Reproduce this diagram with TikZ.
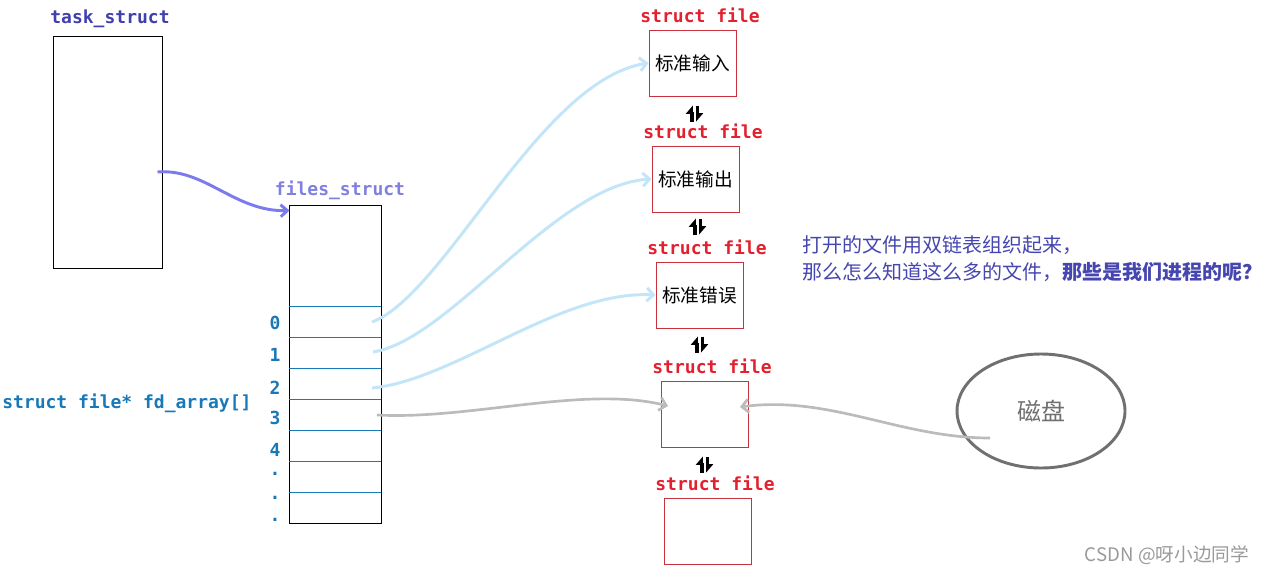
\documentclass[tikz,border=0pt]{standalone}
\usepackage{fontspec}
\setmonofont{DejaVu Sans Mono}
\newfontfamily\cjk{Noto Sans CJK SC}
\usetikzlibrary{arrows.meta,shapes.geometric,fit,calc}
\definecolor{taskc}{HTML}{3F3FAF}
\definecolor{filesc}{HTML}{8080E0}
\definecolor{idxc}{HTML}{1878B8}
\definecolor{redc}{HTML}{E3202E}
\definecolor{boxred}{HTML}{C8323C}
\definecolor{lblue}{HTML}{C2E5F8}
\definecolor{arrgray}{HTML}{BBBBBB}
\definecolor{diskc}{HTML}{707070}
\definecolor{notec}{HTML}{4646B0}
\definecolor{purp}{HTML}{7B7BEE}
\definecolor{wmark}{HTML}{9A9A9A}
\tikzset{
  codelbl/.style={font=\ttfamily\bfseries\fontsize{13.5}{15}\selectfont, inner sep=0pt},
  blackbox/.style={draw=black, line width=0.75pt, inner sep=0pt},
  filebox/.style={draw=boxred, line width=0.75pt, inner sep=0pt},
  boxtext/.style={font=\cjk\fontsize{14}{16}\selectfont, inner sep=0pt},
  cellline/.style={draw=idxc, line width=0.75pt},
  bluearr/.style={draw=lblue, line width=2.2pt, -{Straight Barb[length=5pt,width=10pt]}},
  grayarr/.style={draw=arrgray, line width=2pt, -{Straight Barb[length=5pt,width=10pt]}},
  purparr/.style={draw=purp, line width=2.2pt, -{Straight Barb[length=5pt,width=9pt]}},
  harp/.style={draw=black, line width=2.4pt, -{Triangle[left,length=5.5pt,width=9pt]}},
}
\newcommand{\dblarrow}[3]{%
  \draw[harp] ($(#1.south)+(#2-2.6,#3+16)$) -- ($(#1.south)+(#2-2.6,#3)$);
  \draw[harp] ($(#1.south)+(#2+2.6,#3)$) -- ($(#1.south)+(#2+2.6,#3+16)$);
}
\begin{document}
\begin{tikzpicture}[x=0.75pt,y=-0.75pt]
\useasboundingbox[fill=white] (0,0) rectangle (1266,575);

% task_struct
\node[codelbl, text=taskc] (tasklbl) at (110,19) {task\_struct};
\node[blackbox, fit={(53,36) (162,268)}] (task) {};

% files_struct
\node[codelbl, text=filesc] (fileslbl) at (340,190) {files\_struct};
\node[blackbox, fit={(289,205) (381,523)}] (files) {};
\foreach \yy in {306,337,368,399,430,461,492}
  \draw[cellline] (289.4,\yy) -- (380.6,\yy);

% indices
\node[codelbl, text=idxc] (i0) at (275,323) {0};
\node[codelbl, text=idxc] (i1) at (275,355) {1};
\node[codelbl, text=idxc] (i2) at (275,388) {2};
\node[codelbl, text=idxc] (i3) at (275,418) {3};
\node[codelbl, text=idxc] (i4) at (275,450) {4};
\node[codelbl, text=idxc] (d1) at (275,474) {.};
\node[codelbl, text=idxc] (d2) at (275,498) {.};
\node[codelbl, text=idxc] (d3) at (275,520) {.};
\node[codelbl, text=idxc, anchor=west] (fdarr) at (2,403) {struct file* fd\_array[]};

% struct file nodes
\node[codelbl, text=redc] (l1) at (700,15) {struct file};
\node[filebox, fit={(649,30) (736,96)}] (f1) {};
\node[boxtext] (t1) at (f1.center) {标准输入};
\node[codelbl, text=redc] (l2) at (703,131) {struct file};
\node[filebox, fit={(652,146) (739,212)}] (f2) {};
\node[boxtext] (t2) at (f2.center) {标准输出};
\node[codelbl, text=redc] (l3) at (707,247) {struct file};
\node[filebox, fit={(656,262) (743,328)}] (f3) {};
\node[boxtext] (t3) at (f3.center) {标准错误};
\node[codelbl, text=redc] (l4) at (712,366) {struct file};
\node[filebox, fit={(661,381) (748,447)}] (f4) {};
\node[codelbl, text=redc] (l5) at (715,483) {struct file};
\node[filebox, fit={(664,498) (751,564)}] (f5) {};

% double arrows between file nodes
\dblarrow{f1}{2}{9}
\dblarrow{f2}{2}{6}
\dblarrow{f3}{0}{8}
\dblarrow{f4}{0}{9}

% disk
\node[ellipse, draw=diskc, line width=2.2pt, minimum width=126pt, minimum height=85.5pt,
      font=\cjk\fontsize{18}{20}\selectfont, text=diskc] (disk) at (1041,411) {磁盘};

% note
\node[anchor=west, inner sep=0pt, text=notec, font=\cjk\fontsize{15}{17}\selectfont] (note1) at (802,245) {打开的文件用双链表组织起来，};
\node[anchor=west, inner sep=0pt, text=notec, font=\cjk\fontsize{15}{17}\selectfont] (note2) at (802,272) {那么怎么知道这么多的文件，\textbf{那些是我们进程的呢？}};

% watermark
\node[inner sep=0pt, text=wmark, font=\cjk\fontsize{14}{16}\selectfont] (wm) at (1167,555) {CSDN @呀小边同学};

% coordinates for connector ends
\coordinate (tk) at ($(task.east)+(-5,20)$);
\coordinate (fs) at ($(files.north west)+(1,6)$);
\coordinate (c0) at (372,322);
\coordinate (c1) at (373,352);
\coordinate (c2) at (372,388);
\coordinate (c3) at (377,415);
\coordinate (f4in) at (668,406);
\coordinate (f4r) at (740,407);
\coordinate (dk) at (990,438);

% connectors
\draw[purparr] (tk) .. controls (205,168) and (235,212) .. (fs);
\draw[bluearr] (c0) .. controls (445,295) and (540,80) .. (f1.west);
\draw[bluearr] (c1) .. controls (450,340) and (555,185) .. (f2.west);
\draw[bluearr] (c2) .. controls (455,380) and (560,290) .. (f3.west);
\draw[grayarr] (c3) .. controls (470,420) and (585,385) .. (f4in);
\draw[grayarr] (dk) .. controls (900,438) and (830,395) .. (f4r);
\end{tikzpicture}
\end{document}
